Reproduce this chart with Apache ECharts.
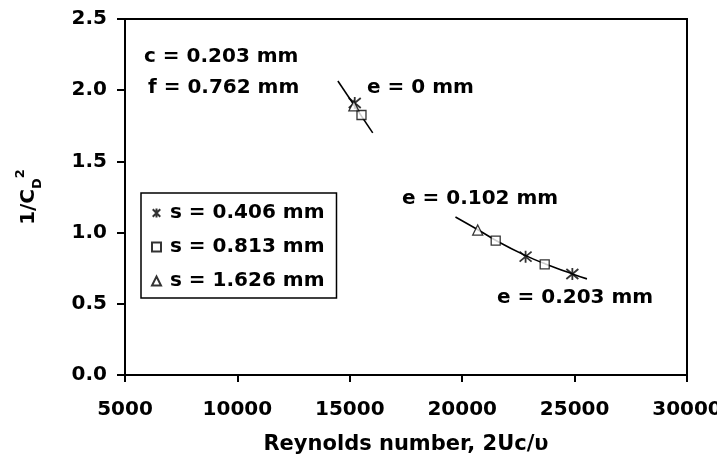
<!DOCTYPE html>
<html><head><meta charset="utf-8">
<script src="https://cdn.jsdelivr.net/npm/echarts@6/dist/echarts.min.js"></script>
<style>html,body{margin:0;padding:0;background:#fff}#c{width:717px;height:456px}</style>
</head><body><div id="c"></div>
<script>
// Data
const xTicks = [5000, 10000, 15000, 20000, 25000, 30000];
const yTicks = ['0.0', '0.5', '1.0', '1.5', '2.0', '2.5'];
const seriesNames = ['s = 0.406 mm', 's = 0.813 mm', 's = 1.626 mm'];
const starPts = [[15220, 1.91], [22820, 0.831], [24900, 0.709]];
const squarePts = [[15520, 1.826], [21490, 0.943], [23670, 0.777]];
const trianglePts = [[15180, 1.89], [20690, 1.018]];
const fitE0 = [[14470, 2.065], [16020, 1.70]];
const fitE1 = [[19700, 1.11], [20700, 1.02], [21500, 0.945], [22800, 0.84], [23700, 0.78], [24900, 0.71], [25550, 0.675]];
const annotations = [
  { text: 'c = 0.203 mm', x: 144, y: 58 },
  { text: 'f = 0.762 mm', x: 148, y: 89 },
  { text: 'e = 0 mm', x: 367, y: 89 },
  { text: 'e = 0.102 mm', x: 402, y: 200 },
  { text: 'e = 0.203 mm', x: 497, y: 299 }
];

const FONT = 'DejaVu Sans';
const chart = echarts.init(document.getElementById('c'), null, { renderer: 'canvas' });
const starPath = 'path://M0,0L10,10M10,0L0,10M5,-1L5,11';
const base = { type: 'scatter', z: 5, itemStyle: { color: '#fff', borderColor: '#000', borderWidth: 1.3 } };

chart.setOption({
  animation: false,
  backgroundColor: '#fff',
  textStyle: { fontFamily: FONT, color: '#000' },
  grid: { left: 125, right: 30, top: 19, bottom: 81, containLabel: false, outerBoundsMode: 'none',
    show: true, borderColor: '#000', borderWidth: 2, backgroundColor: 'transparent' },
  xAxis: {
    type: 'value', min: 5000, max: 30000, interval: 5000,
    name: 'Reynolds number, 2Uc/\u03c5', nameLocation: 'middle', nameGap: 59,
    nameTextStyle: { fontFamily: FONT, fontWeight: 'bold', fontSize: 21, color: '#000' },
    axisLine: { lineStyle: { color: '#000', width: 2 } },
    axisTick: { show: true, inside: false, length: 7, lineStyle: { color: '#000', width: 2 } },
    axisLabel: { fontFamily: FONT, fontWeight: 'bold', fontSize: 20, color: '#000', margin: 25,
      hideOverlap: false, showMaxLabel: true, showMinLabel: true,
      formatter: v => String(xTicks.find(t => t === v) ?? v) },
    splitLine: { show: false }
  },
  yAxis: {
    type: 'value', min: 0, max: 2.5, interval: 0.5,
    name: '{n|1/C}{sub|D}{sup|2}', nameLocation: 'middle', nameGap: 81, nameRotate: 90,
    nameTextStyle: {
      fontFamily: FONT, fontWeight: 'bold', fontSize: 20, color: '#000',
      rich: {
        n: { fontFamily: FONT, fontWeight: 'bold', fontSize: 20, color: '#000', lineHeight: 30, verticalAlign: 'middle' },
        sub: { fontFamily: FONT, fontWeight: 'bold', fontSize: 13, color: '#000', lineHeight: 30, verticalAlign: 'bottom' },
        sup: { fontFamily: FONT, fontWeight: 'bold', fontSize: 13, color: '#000', lineHeight: 30, verticalAlign: 'top' }
      }
    },
    axisLine: { show: true, lineStyle: { color: '#000', width: 2 } },
    axisTick: { show: true, inside: false, length: 8, lineStyle: { color: '#000', width: 2 } },
    axisLabel: { fontFamily: FONT, fontWeight: 'bold', fontSize: 20, color: '#000', margin: 18,
      formatter: v => yTicks[Math.round(v / 0.5)] },
    splitLine: { show: false }
  },
  legend: {
    orient: 'vertical', left: 141, top: 193, width: 190,
    padding: [10, 12, 7, 10], itemGap: 14,
    borderColor: '#000', borderWidth: 1.5, backgroundColor: '#fff',
    itemWidth: 9, itemHeight: 9,
    textStyle: { fontFamily: FONT, fontWeight: 'bold', fontSize: 20, color: '#000', lineHeight: 20, padding: [0, 0, 0, 4] },
    data: seriesNames
  },
  series: [
    { type: 'line', data: fitE0, symbol: 'none', z: 3, lineStyle: { color: '#000', width: 1.6 }, silent: true },
    { type: 'line', data: fitE1, symbol: 'none', smooth: 0.4, z: 3, lineStyle: { color: '#000', width: 1.6 }, silent: true },
    Object.assign({}, base, { name: seriesNames[0], data: starPts, symbol: starPath, symbolSize: 12,
      itemStyle: { color: 'transparent', borderColor: '#000', borderWidth: 1.8 } }),
    Object.assign({}, base, { name: seriesNames[1], data: squarePts, symbol: 'rect', symbolSize: 9 }),
    Object.assign({}, base, { name: seriesNames[2], data: trianglePts, symbol: 'triangle', symbolSize: 10 })
  ],
  graphic: annotations.map(a => ({
    type: 'text', left: a.x, top: a.y - 11, z: 10,
    style: { text: a.text, fontFamily: FONT, fontWeight: 'bold', fontSize: 20, fill: '#000' }
  }))
});
</script></body></html>
